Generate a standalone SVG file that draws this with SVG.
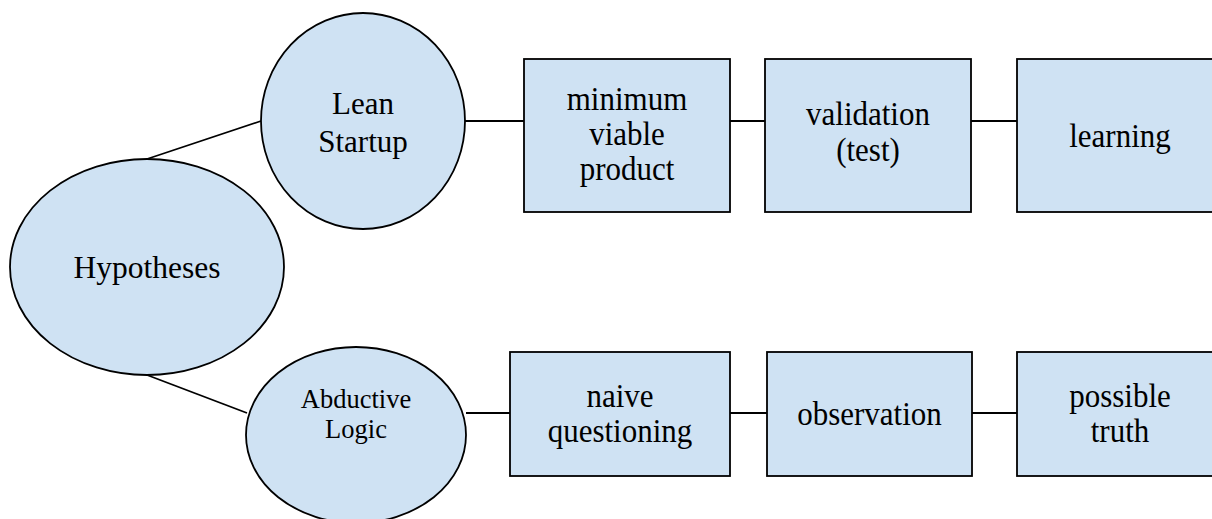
<svg xmlns="http://www.w3.org/2000/svg" width="1212" height="519" viewBox="0 0 1212 519">
<style>
.n{fill:#cfe2f3;stroke:#000;stroke-width:1.8}
.c{stroke:#000;stroke-width:1.8;fill:none}
text{font-family:"Liberation Serif","Times New Roman",serif;font-size:31px;fill:#000;text-anchor:middle}
.s{font-size:26.5px}
</style>
<rect width="1212" height="519" fill="#fff"/>
<g id="connectors">
<line class="c" x1="147" y1="159" x2="261" y2="121"/>
<line class="c" x1="147" y1="375" x2="247" y2="413"/>
<line class="c" x1="454" y1="121" x2="524" y2="121"/>
<line class="c" x1="730" y1="121" x2="765" y2="121"/>
<line class="c" x1="971" y1="121" x2="1017" y2="121"/>
<line class="c" x1="466" y1="413" x2="510" y2="413"/>
<line class="c" x1="730" y1="413" x2="767" y2="413"/>
<line class="c" x1="972" y1="413" x2="1017" y2="413"/>
</g>
<g id="hypotheses">
<ellipse class="n" cx="147" cy="267" rx="137" ry="108"/>
<text x="147" y="278" style="font-size:31.5px">Hypotheses</text>
</g>
<g id="lean">
<ellipse class="n" cx="363" cy="121" rx="102" ry="108"/>
<text x="363" y="114">Lean</text>
<text x="363" y="152">Startup</text>
</g>
<g id="abductive">
<ellipse class="n" cx="356" cy="435" rx="110" ry="88"/>
<text class="s" x="356" y="408">Abductive</text>
<text class="s" x="356" y="438">Logic</text>
</g>
<g id="mvp">
<rect class="n" x="524" y="59" width="206" height="153"/>
<text transform="translate(627 110) scale(1 1.12)">minimum</text>
<text transform="translate(627 145) scale(1 1.12)">viable</text>
<text transform="translate(627 180) scale(1 1.12)">product</text>
</g>
<g id="validation">
<rect class="n" x="765" y="59" width="206" height="153"/>
<text transform="translate(868 125) scale(1 1.08)">validation</text>
<text transform="translate(868 161) scale(1 1.08)">(test)</text>
</g>
<g id="learning">
<rect class="n" x="1017" y="59" width="205" height="153"/>
<text transform="translate(1120 147) scale(1 1.12)">learning</text>
</g>
<g id="naive">
<rect class="n" x="510" y="352" width="220" height="124"/>
<text transform="translate(620 407) scale(1 1.12)">naive</text>
<text transform="translate(620 442) scale(1 1.12)">questioning</text>
</g>
<g id="observation">
<rect class="n" x="767" y="352" width="205" height="124"/>
<text transform="translate(869.5 425) scale(1 1.12)">observation</text>
</g>
<g id="truth">
<rect class="n" x="1017" y="352" width="205" height="124"/>
<text transform="translate(1120 407) scale(1 1.12)">possible</text>
<text transform="translate(1120 442) scale(1 1.12)">truth</text>
</g>
</svg>
